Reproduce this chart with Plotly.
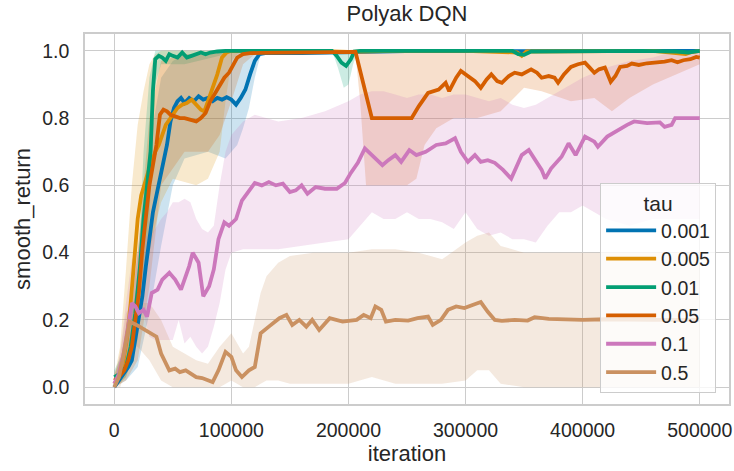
import plotly.graph_objects as go

# ---------------------------------------------------------------------------
# Polyak-averaged DQN: smoothed return vs. training iteration, one curve per tau
# ---------------------------------------------------------------------------
TAU = ["0.001", "0.005", "0.01", "0.05", "0.1", "0.5"]
COLORS = ["#0173b2", "#de8f05", "#029e73", "#d55e00", "#cc78bc", "#ca9161"]

X_TICKS = [0, 100000, 200000, 300000, 400000, 500000]
X_TICKTEXT = ["0", "100000", "200000", "300000", "400000", "500000"]
Y_TICKS = [0.0, 0.2, 0.4, 0.6, 0.8, 1.0]
Y_TICKTEXT = ["0.0", "0.2", "0.4", "0.6", "0.8", "1.0"]

# ---- mean curves ----------------------------------------------------------
# tau = 0.001
it_001 = [0, 4000, 8500, 12000, 15000, 18000, 21000, 24000, 27000, 30000,
          33000, 36000, 39000, 42000, 45000, 48000, 51000, 54000, 57000, 60000,
          64000, 68000, 72000, 76000, 80000, 84000, 88000, 92000, 96000, 100000,
          104000, 108000, 112000, 116000, 120000, 124000, 130000, 160000, 200000, 260000,
          320000, 380000, 440000, 500000]
ret_001 = [0.0, 0.02, 0.04, 0.06, 0.08, 0.14, 0.21, 0.27, 0.36, 0.45,
           0.52, 0.57, 0.62, 0.67, 0.72, 0.79, 0.83, 0.85, 0.86, 0.845,
           0.86, 0.85, 0.865, 0.855, 0.86, 0.85, 0.86, 0.855, 0.862, 0.855,
           0.84, 0.86, 0.885, 0.93, 0.97, 0.99, 0.994, 0.993, 0.995, 1.0,
           0.999, 1.0, 1.0, 1.0]

# tau = 0.005
it_005 = [0, 4000, 8000, 11000, 14000, 17000, 20000, 23000, 26000, 29000,
          32000, 35000, 38000, 41000, 44000, 47000, 50000, 54000, 58000, 62000,
          66000, 70000, 74000, 77000, 80000, 84000, 88000, 92000, 96000, 100000,
          130000, 170000, 200000, 240000, 300000, 344000, 348000, 352000, 400000, 460000,
          488000, 492000, 500000]
ret_005 = [0.01, 0.03, 0.08, 0.15, 0.25, 0.38, 0.5, 0.57, 0.61, 0.64,
           0.67, 0.70, 0.72, 0.75, 0.78, 0.795, 0.81, 0.83, 0.84, 0.845,
           0.855, 0.84, 0.825, 0.82, 0.85, 0.885, 0.93, 0.98, 0.995, 1.0,
           0.998, 1.0, 0.997, 1.0, 1.0, 0.995, 0.985, 0.998, 1.0, 1.0,
           0.99, 0.995, 1.0]

# tau = 0.01
it_01 = [0, 5000, 10000, 14000, 18000, 22000, 25000, 28000, 31000, 33000,
         35000, 38000, 41000, 44000, 47000, 50000, 54000, 58000, 62000, 66000,
         70000, 74000, 78000, 82000, 88000, 95000, 110000, 140000, 170000, 186000,
         190000, 194000, 198000, 202000, 205000, 210000, 250000, 300000, 340000, 345000,
         350000, 356000, 400000, 450000, 480000, 490000, 500000]
ret_01 = [0.03, 0.04, 0.06, 0.12, 0.22, 0.36, 0.5, 0.6, 0.7, 0.88,
          0.975, 0.985, 0.98, 0.97, 0.99, 0.985, 0.98, 0.995, 0.98, 0.985,
          0.99, 0.995, 0.99, 0.995, 0.998, 1.0, 1.0, 1.0, 1.0, 1.0,
          0.985, 0.965, 0.955, 0.975, 0.998, 1.0, 1.0, 0.999, 1.0, 0.99,
          0.988, 0.998, 1.0, 1.0, 0.998, 0.995, 1.0]

# tau = 0.05
it_05 = [0, 4000, 8500, 12000, 15000, 18000, 21000, 24000, 27000, 30000,
         33000, 36000, 39000, 42000, 45000, 48000, 52000, 56000, 60000, 65000,
         70000, 74000, 78000, 82000, 86000, 90000, 94000, 98000, 102000, 105000,
         110000, 116000, 125000, 150000, 180000, 206000, 220000, 254000, 260000, 268000,
         277000, 283000, 286000, 292000, 296000, 302000, 308000, 313000, 318000, 322000,
         327000, 331000, 337000, 342000, 348000, 356000, 361000, 365000, 371000, 376000,
         379000, 384000, 390000, 396000, 402000, 406000, 410000, 414000, 419000, 424000,
         428000, 432000, 438000, 442000, 448000, 455000, 462000, 470000, 476000, 481000,
         486000, 492000, 497000, 500000]
ret_05 = [0.02, 0.03, 0.05, 0.08, 0.12, 0.2, 0.28, 0.41, 0.52, 0.6,
          0.66, 0.72, 0.81, 0.825, 0.82, 0.81, 0.805, 0.80, 0.80, 0.795,
          0.79, 0.80, 0.815, 0.85, 0.875, 0.90, 0.92, 0.935, 0.96, 0.98,
          0.99, 0.993, 0.994, 0.995, 0.996, 0.997, 0.8, 0.8, 0.835, 0.875,
          0.885, 0.905, 0.88, 0.92, 0.94, 0.925, 0.91, 0.89, 0.915, 0.93,
          0.91, 0.905, 0.925, 0.935, 0.93, 0.945, 0.935, 0.92, 0.925, 0.92,
          0.905, 0.93, 0.952, 0.96, 0.965, 0.95, 0.935, 0.945, 0.95, 0.908,
          0.925, 0.952, 0.955, 0.962, 0.958, 0.963, 0.965, 0.968, 0.972, 0.966,
          0.972, 0.975, 0.982, 0.98]

# tau = 0.1
it_1 = [0, 4000, 8000, 12000, 15000, 18000, 21000, 25000, 28000, 32000,
        37000, 41000, 47000, 52000, 57000, 64000, 67000, 72000, 76000, 81000,
        85000, 89000, 94000, 98000, 104000, 109000, 114000, 120000, 126000, 132000,
        138000, 144000, 150000, 155000, 160000, 165000, 172000, 180000, 190000, 197000,
        202000, 208000, 214000, 220000, 224000, 229000, 234000, 240000, 245000, 252000,
        258000, 266000, 275000, 283000, 291000, 296000, 302000, 308000, 313000, 319000,
        325000, 332000, 339000, 348000, 354000, 360000, 365000, 368000, 373000, 382000,
        388000, 394000, 402000, 410000, 413000, 421000, 430000, 438000, 444000, 455000,
        466000, 470000, 476000, 479000, 490000, 500000]
ret_1 = [0.01, 0.04, 0.10, 0.18, 0.25, 0.24, 0.22, 0.23, 0.21, 0.28,
         0.29, 0.32, 0.34, 0.32, 0.29, 0.36, 0.40, 0.37, 0.27, 0.30,
         0.35, 0.44, 0.49, 0.48, 0.50, 0.555, 0.58, 0.607, 0.60, 0.61,
         0.60, 0.605, 0.58, 0.585, 0.60, 0.575, 0.595, 0.59, 0.59, 0.607,
         0.637, 0.667, 0.71, 0.69, 0.675, 0.66, 0.675, 0.69, 0.67, 0.705,
         0.69, 0.70, 0.72, 0.725, 0.74, 0.70, 0.67, 0.69, 0.67, 0.675,
         0.667, 0.646, 0.62, 0.69, 0.705, 0.67, 0.646, 0.62, 0.65, 0.685,
         0.725, 0.69, 0.745, 0.73, 0.715, 0.745, 0.765, 0.78, 0.79, 0.785,
         0.787, 0.774, 0.78, 0.80, 0.80, 0.80]

# tau = 0.5
it_5 = [0, 4000, 7000, 10000, 13000, 19000, 24000, 30000, 36000, 40000,
        44000, 47000, 52000, 56000, 61000, 66000, 70000, 75000, 80000, 84000,
        89000, 95000, 100000, 104000, 109000, 115000, 120000, 125000, 132000, 141000,
        147000, 152000, 158000, 164000, 169000, 175000, 184000, 195000, 207000, 213000,
        219000, 223000, 228000, 232000, 240000, 251000, 259000, 268000, 272000, 279000,
        285000, 292000, 299000, 306000, 313000, 319000, 325000, 331000, 342000, 353000,
        359000, 371000, 386000, 400000, 420000, 440000, 460000, 480000, 500000]
ret_5 = [0.0, 0.03, 0.08, 0.14, 0.195, 0.185, 0.175, 0.165, 0.15, 0.10,
         0.07, 0.05, 0.055, 0.045, 0.05, 0.04, 0.03, 0.027, 0.02, 0.015,
         0.05, 0.105, 0.09, 0.05, 0.03, 0.05, 0.06, 0.16, 0.18, 0.205,
         0.215, 0.185, 0.20, 0.18, 0.20, 0.17, 0.205, 0.195, 0.20, 0.215,
         0.205, 0.24, 0.23, 0.195, 0.20, 0.198, 0.205, 0.21, 0.185, 0.20,
         0.23, 0.24, 0.235, 0.244, 0.253, 0.224, 0.20, 0.197, 0.20, 0.198,
         0.208, 0.203, 0.20, 0.20, 0.202, 0.20, 0.20, 0.20, 0.20]

# ---- confidence bands (lower / upper) -------------------------------------
band_it_001 = [0, 10000, 20000, 30000, 40000, 50000, 60000, 80000, 95000, 100000,
               105000, 110000, 115000, 120000, 125000, 130000, 500000]
band_lo_001 = [0.0, 0.02, 0.06, 0.22, 0.42, 0.6, 0.68, 0.7, 0.68, 0.7,
               0.72, 0.77, 0.83, 0.92, 0.99, 1.0, 1.0]
band_hi_001 = [0.02, 0.08, 0.4, 0.72, 0.92, 0.97, 0.99, 0.99, 1.0, 1.0,
               1.0, 1.0, 1.0, 1.0, 1.0, 1.0, 1.0]

band_it_005 = [0, 5000, 10000, 15000, 20000, 25000, 30000, 35000, 40000, 50000,
               60000, 70000, 80000, 90000, 95000, 100000, 105000, 110000, 500000]
band_lo_005 = [0.0, 0.01, 0.03, 0.08, 0.2, 0.3, 0.4, 0.48, 0.55, 0.62,
               0.61, 0.6, 0.62, 0.7, 0.85, 0.97, 0.99, 1.0, 1.0]
band_hi_005 = [0.03, 0.12, 0.35, 0.6, 0.78, 0.88, 0.96, 0.99, 1.0, 1.0,
               1.0, 1.0, 1.0, 1.0, 1.0, 1.0, 1.0, 1.0, 1.0]

band_it_01 = [0, 10000, 20000, 25000, 30000, 35000, 40000, 60000, 90000, 100000,
              186000, 191000, 196000, 200000, 204000, 208000, 500000]
band_lo_01 = [0.0, 0.03, 0.14, 0.3, 0.5, 0.9, 0.96, 0.96, 0.985, 1.0,
              1.0, 0.95, 0.89, 0.9, 0.96, 1.0, 1.0]
band_hi_01 = [0.05, 0.12, 0.32, 0.7, 0.92, 1.0, 1.0, 1.0, 1.0, 1.0,
              1.0, 1.0, 1.0, 1.0, 1.0, 1.0, 1.0]

band_it_05 = [0, 10000, 20000, 30000, 40000, 60000, 80000, 90000, 100000, 110000,
              120000, 206000, 210000, 215000, 220000, 250000, 258000, 265000, 275000, 290000,
              310000, 330000, 350000, 365000, 390000, 410000, 425000, 440000, 460000, 480000,
              500000]
band_lo_05 = [0.0, 0.02, 0.08, 0.3, 0.6, 0.7, 0.7, 0.75, 0.85, 0.96,
              0.99, 0.99, 0.85, 0.6, 0.6, 0.6, 0.62, 0.72, 0.77, 0.8,
              0.8, 0.82, 0.89, 0.88, 0.85, 0.86, 0.82, 0.86, 0.9, 0.93,
              0.96]
band_hi_05 = [0.04, 0.12, 0.4, 0.8, 0.97, 0.99, 0.99, 1.0, 1.0, 1.0,
              1.0, 1.0, 1.0, 1.0, 1.0, 1.0, 1.0, 1.0, 1.0, 1.0,
              1.0, 1.0, 1.0, 1.0, 1.0, 1.0, 1.0, 1.0, 1.0, 1.0,
              1.0]

band_it_1 = [0, 5000, 10000, 15000, 20000, 25000, 30000, 35000, 40000, 45000,
             50000, 55000, 60000, 65000, 70000, 75000, 80000, 85000, 90000, 95000,
             100000, 110000, 120000, 140000, 160000, 180000, 200000, 210000, 220000, 230000,
             240000, 250000, 260000, 270000, 280000, 290000, 300000, 310000, 320000, 330000,
             340000, 350000, 360000, 370000, 380000, 390000, 400000, 420000, 440000, 460000,
             480000, 500000]
band_lo_1 = [0.0, 0.02, 0.05, 0.12, 0.2, 0.22, 0.15, 0.14, 0.14, 0.14,
             0.14, 0.2, 0.13, 0.15, 0.12, 0.1, 0.12, 0.18, 0.25, 0.35,
             0.4, 0.41, 0.41, 0.41, 0.42, 0.43, 0.44, 0.48, 0.52, 0.5,
             0.5, 0.52, 0.5, 0.5, 0.49, 0.47, 0.52, 0.47, 0.45, 0.46,
             0.44, 0.44, 0.43, 0.48, 0.52, 0.52, 0.54, 0.5, 0.48, 0.5,
             0.5, 0.5]
band_hi_1 = [0.02, 0.1, 0.25, 0.38, 0.4, 0.45, 0.45, 0.47, 0.5, 0.52,
             0.55, 0.55, 0.56, 0.55, 0.5, 0.47, 0.46, 0.48, 0.6, 0.7,
             0.75, 0.79, 0.81, 0.79, 0.8, 0.82, 0.85, 0.87, 0.88, 0.88,
             0.87, 0.86, 0.87, 0.87, 0.86, 0.87, 0.87, 0.86, 0.85, 0.86,
             0.84, 0.83, 0.84, 0.86, 0.88, 0.9, 0.92, 0.95, 0.97, 0.98,
             1.0, 1.0]

band_it_5 = [0, 5000, 10000, 15000, 20000, 30000, 40000, 50000, 60000, 70000,
             80000, 90000, 100000, 110000, 115000, 120000, 125000, 130000, 140000, 150000,
             170000, 200000, 220000, 240000, 260000, 280000, 300000, 310000, 320000, 330000,
             350000, 380000, 420000, 460000, 500000]
band_lo_5 = [0.0, 0.0, 0.05, 0.12, 0.12, 0.08, 0.02, 0.0, 0.0, 0.0,
             0.0, 0.0, 0.02, 0.0, 0.0, 0.0, 0.01, 0.02, 0.02, 0.01,
             0.01, 0.01, 0.03, 0.01, 0.01, 0.01, 0.02, 0.05, 0.05, 0.01,
             0.0, 0.0, 0.0, 0.0, 0.0]
band_hi_5 = [0.02, 0.1, 0.22, 0.25, 0.25, 0.25, 0.2, 0.12, 0.1, 0.08,
             0.07, 0.12, 0.16, 0.1, 0.12, 0.2, 0.28, 0.33, 0.37, 0.39,
             0.4, 0.4, 0.41, 0.41, 0.4, 0.38, 0.43, 0.45, 0.46, 0.42,
             0.4, 0.4, 0.4, 0.4, 0.4]

MEANS = [(it_001, ret_001), (it_005, ret_005), (it_01, ret_01),
         (it_05, ret_05), (it_1, ret_1), (it_5, ret_5)]
BANDS = [(band_it_001, band_lo_001, band_hi_001), (band_it_005, band_lo_005, band_hi_005),
         (band_it_01, band_lo_01, band_hi_01), (band_it_05, band_lo_05, band_hi_05),
         (band_it_1, band_lo_1, band_hi_1), (band_it_5, band_lo_5, band_hi_5)]


def rgba(hex_color, alpha):
    h = hex_color.lstrip("#")
    r, g, b = int(h[0:2], 16), int(h[2:4], 16), int(h[4:6], 16)
    return f"rgba({r},{g},{b},{alpha})"


fig = go.Figure()

# shaded bands underneath every line
for name, color, (bx, lo, hi) in zip(TAU, COLORS, BANDS):
    fig.add_trace(go.Scatter(
        x=list(bx) + list(bx)[::-1],
        y=list(hi) + list(lo)[::-1],
        fill="toself", fillcolor=rgba(color, 0.2),
        line=dict(width=0), mode="lines",
        hoverinfo="skip", showlegend=False, legendgroup=name,
    ))

# mean curves
for name, color, (mx, my) in zip(TAU, COLORS, MEANS):
    fig.add_trace(go.Scatter(
        x=mx, y=my, mode="lines", name=name, legendgroup=name,
        line=dict(color=color, width=3.8),
    ))

GRID = "#cccccc"
TEXT = "#262626"
FONT = "Liberation Sans, Arial, sans-serif"

fig.update_layout(
    width=734, height=471,
    margin=dict(l=85, r=3, t=34, b=67),
    plot_bgcolor="white", paper_bgcolor="white",
    font=dict(family=FONT, color=TEXT, size=19.5),
    title=dict(text="Polyak DQN", x=0.5, xref="paper", xanchor="center",
               y=1 - 13 / 471, yref="container", yanchor="middle",
               font=dict(size=22, color=TEXT, family=FONT)),
    legend=dict(
        title=dict(text="tau", side="top center", font=dict(size=21)),
        x=0.98, xanchor="right", y=0.03, yanchor="bottom",
        bgcolor="rgba(255,255,255,0.8)", bordercolor=GRID, borderwidth=1,
        font=dict(size=19.5), tracegroupgap=0, itemwidth=50,
    ),
    showlegend=True,
)

fig.update_xaxes(
    range=[-25000, 525000], tickvals=X_TICKS, ticktext=X_TICKTEXT,
    showgrid=True, gridcolor=GRID, gridwidth=1.3,
    showline=True, mirror=True, linecolor=GRID, linewidth=1.5,
    zeroline=False, ticks="outside", ticklen=8, tickcolor="rgba(0,0,0,0)",
    title=dict(text="iteration", font=dict(size=22), standoff=4),
)
fig.update_yaxes(
    range=[-0.05, 1.05], tickvals=Y_TICKS, ticktext=Y_TICKTEXT,
    showgrid=True, gridcolor=GRID, gridwidth=1.3,
    showline=True, mirror=True, linecolor=GRID, linewidth=1.5,
    zeroline=False, ticks="outside", ticklen=10, tickcolor="rgba(0,0,0,0)",
    title=dict(text="smooth_return", font=dict(size=22), standoff=6),
)

fig.write_html("out.html")
